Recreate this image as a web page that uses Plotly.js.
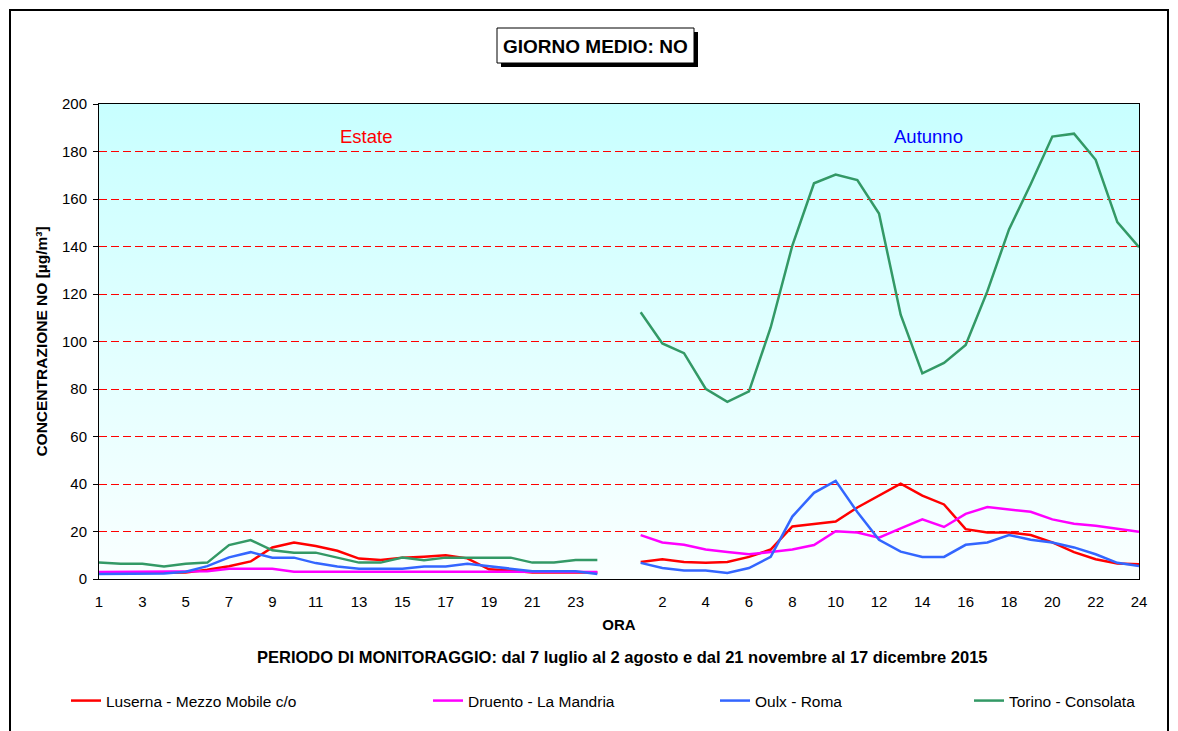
<!DOCTYPE html>
<html>
<head>
<meta charset="utf-8">
<script src="https://cdn.plot.ly/plotly-3.0.1.min.js"></script>
<style>
  html, body { margin: 0; padding: 0; background: #ffffff; }
  #chart { width: 1178px; height: 731px; }
</style>
</head>
<body>
<div id="chart"></div>
<script>
// ---- DATA ----
const hours = [1,2,3,4,5,6,7,8,9,10,11,12,13,14,15,16,17,18,19,20,21,22,23,24];
const seriesNames = ["Luserna - Mezzo Mobile c/o", "Druento - La Mandria", "Oulx - Roma", "Torino - Consolata"];
const seriesColors = ["#FF0000", "#FF00FF", "#3366FF", "#339966"];

// Estate (summer) hourly means, µg/m³
const lusernaEstate = [2.4,2.4,2.4,2.4,2.7,3.9,5.4,7.4,13.3,15.4,13.9,11.9,8.6,8.0,9.0,9.4,10.0,8.7,4.1,3.6,2.7,2.7,2.7,2.7];
const druentoEstate = [3.0,3.0,3.0,3.0,3.0,3.3,4.3,4.3,4.3,3.1,3.1,3.1,3.1,3.1,3.1,3.1,3.1,3.1,3.1,3.1,3.1,3.1,3.1,3.0];
const oulxEstate    = [2.1,2.1,2.1,2.3,3.1,5.4,9.1,11.3,9.0,9.0,6.7,5.3,4.3,4.3,4.3,5.3,5.3,6.4,5.3,4.4,3.3,3.3,3.3,2.1];
const torinoEstate  = [6.9,6.4,6.4,5.3,6.4,6.9,14.3,16.4,12.1,11.1,11.1,9.1,6.9,6.9,9.0,7.9,9.0,9.0,9.0,9.0,6.9,6.9,8.0,8.0];

// Autunno (autumn) hourly means, µg/m³
const lusernaAutunno = [7.2,8.3,7.2,6.8,7.2,9.3,12.4,22.1,23.2,24.2,30.1,35.1,40.1,35.1,31.4,21.0,19.6,19.6,18.5,15.4,11.3,8.3,6.5,6.2];
const druentoAutunno = [18.5,15.4,14.4,12.4,11.4,10.4,11.4,12.4,14.3,20.1,19.6,17.4,21.3,25.1,21.9,27.4,30.3,29.3,28.3,25.1,23.3,22.4,21.3,19.9];
const oulxAutunno    = [6.8,4.6,3.6,3.6,2.5,4.6,9.3,26.3,36.3,41.3,28.2,16.5,11.5,9.3,9.3,14.4,15.4,18.5,16.5,15.4,13.3,10.4,6.8,5.5];
const torinoAutunno  = [112.3,99.2,95.1,80.1,74.6,79.0,105.9,140.4,166.6,170.3,168.0,153.9,111.3,86.6,91.0,98.5,121.1,147.2,166.2,186.3,187.5,176.5,150.3,139.7];

// Tick labels on the category axis (every second slot)
const tickLabels = ["1","3","5","7","9","11","13","15","17","19","21","23","","2","4","6","8","10","12","14","16","18","20","22","24"];

const periodText = "PERIODO DI MONITORAGGIO: dal 7 luglio al 2 agosto e dal 21 novembre al 17 dicembre 2015";

// ---- BUILD ----
const W = 1178, H = 731;
const M = {l: 99, r: 39, t: 104, b: 152};
const PW = W - M.l - M.r, PH = H - M.t - M.b;
const px2x = p => (p - M.l) / PW;
const py2y = p => (H - M.b - p) / PH;

// slot index: summer hours 0..23, gap at 24, autumn hours 25..48
const xs = hours.map(h => h - 1).concat([hours.length]).concat(hours.map(h => h + hours.length));
const tickVals = tickLabels.map((_, i) => i * 2);

const pairs = [[lusernaEstate, lusernaAutunno],[druentoEstate, druentoAutunno],[oulxEstate, oulxAutunno],[torinoEstate, torinoAutunno]];
const legendTextX = [108, 470, 757, 1011];
const legendKeys = ["legend","legend2","legend3","legend4"];

const traces = pairs.map((p, i) => ({
  type: "scatter", mode: "lines",
  name: seriesNames[i],
  x: xs,
  y: p[0].concat([null]).concat(p[1]),
  connectgaps: false,
  line: {color: seriesColors[i], width: 2.5},
  legend: legendKeys[i],
  hoverinfo: "x+y+name"
}));

const FONT = "Liberation Sans, Arial, sans-serif";
const legendCommon = {
  orientation: "h", yanchor: "middle", xanchor: "left",
  y: py2y(701), bgcolor: "rgba(0,0,0,0)", borderwidth: 0,
  font: {family: FONT, size: 15.5, color: "#000"},
  itemwidth: 30
};

const gradSvg = '<svg xmlns="http://www.w3.org/2000/svg" width="100" height="100" viewBox="0 0 100 100" preserveAspectRatio="none">' +
  '<defs><linearGradient id="g" x1="0" y1="0" x2="0" y2="1"><stop offset="0" stop-color="#C8FFFF"/><stop offset="1" stop-color="#FAFFFF"/></linearGradient></defs>' +
  '<rect x="0" y="0" width="100" height="100" fill="url(#g)"/></svg>';
const gradUri = "data:image/svg+xml;charset=utf-8," + encodeURIComponent(gradSvg);

// title box geometry (pixels)
const box = {x0: 497, x1: 694, y0: 28, y1: 63};
const sh = 4;

const layout = {
  width: W, height: H,
  margin: M,
  paper_bgcolor: "#ffffff",
  plot_bgcolor: "rgba(0,0,0,0)",
  font: {family: FONT, size: 15, color: "#000"},
  showlegend: true,
  xaxis: {
    range: [0, 48], autorange: false,
    tickvals: tickVals, ticktext: tickLabels,
    ticks: "", showgrid: false, zeroline: false,
    showline: true, linecolor: "#000", linewidth: 1, mirror: true,
    tickfont: {size: 15}, ticklabelstandoff: 9,
    automargin: false,
    title: {text: "<b>ORA</b>", font: {size: 15}, standoff: 10}
  },
  yaxis: {
    range: [0, 200], autorange: false,
    tickvals: [0,20,40,60,80,100,120,140,160,180,200],
    ticks: "outside", ticklen: 5, tickcolor: "#000",
    showgrid: true, gridcolor: "#FF0000", gridwidth: 1, griddash: "8px,4px",
    zeroline: false,
    showline: true, linecolor: "#000", linewidth: 1, mirror: true,
    tickfont: {size: 15}, ticklabelstandoff: 3, automargin: false,
    title: {text: "<b>CONCENTRAZIONE NO [µg/m³]</b>", font: {size: 15.5}, standoff: 10}
  },
  legend:  Object.assign({}, legendCommon, {x: px2x(legendTextX[0] - 42)}),
  legend2: Object.assign({}, legendCommon, {x: px2x(legendTextX[1] - 42)}),
  legend3: Object.assign({}, legendCommon, {x: px2x(legendTextX[2] - 42)}),
  legend4: Object.assign({}, legendCommon, {x: px2x(legendTextX[3] - 42)}),
  images: [{
    source: gradUri, xref: "paper", yref: "paper",
    x: 0, y: 1, sizex: 1, sizey: 1, xanchor: "left", yanchor: "top",
    sizing: "stretch", layer: "below"
  }],
  shapes: [
    {type: "path", xref: "paper", yref: "paper",
     path: "M " + px2x(10) + "," + py2y(760) + " L " + px2x(10) + "," + py2y(10) +
           " L " + px2x(1168) + "," + py2y(10) + " L " + px2x(1168) + "," + py2y(760),
     line: {color: "#000", width: 2}},
    {type: "rect", xref: "paper", yref: "paper",
     x0: px2x(box.x0 + sh), x1: px2x(box.x1 + sh), y0: py2y(box.y1 + sh), y1: py2y(box.y0 + sh),
     fillcolor: "#000", line: {width: 0}},
    {type: "rect", xref: "paper", yref: "paper",
     x0: px2x(box.x0), x1: px2x(box.x1), y0: py2y(box.y1), y1: py2y(box.y0),
     fillcolor: "#fff", line: {color: "#000", width: 1}}
  ],
  annotations: [
    {xref: "paper", yref: "paper", x: px2x((box.x0 + box.x1) / 2), y: py2y((box.y0 + box.y1) / 2 + 1),
     xanchor: "center", yanchor: "middle",
     text: "<b>GIORNO MEDIO: NO</b>", showarrow: false,
     font: {family: FONT, size: 19, color: "#000"}},
    {xref: "x", yref: "y", x: 12.3, y: 186.5, xanchor: "center", yanchor: "middle",
     text: "Estate", showarrow: false, font: {size: 18.5, color: "#FF0000"}},
    {xref: "x", yref: "y", x: 38.3, y: 186.5, xanchor: "center", yanchor: "middle",
     text: "Autunno", showarrow: false, font: {size: 18.5, color: "#0000FF"}},
    {xref: "paper", yref: "paper", x: px2x(622), y: py2y(657), xanchor: "center", yanchor: "middle",
     text: "<b>" + periodText + "</b>", showarrow: false,
     font: {size: 16.5, color: "#000"}}
  ]
};

Plotly.newPlot("chart", traces, layout, {displayModeBar: false, staticPlot: true});
</script>
</body>
</html>
